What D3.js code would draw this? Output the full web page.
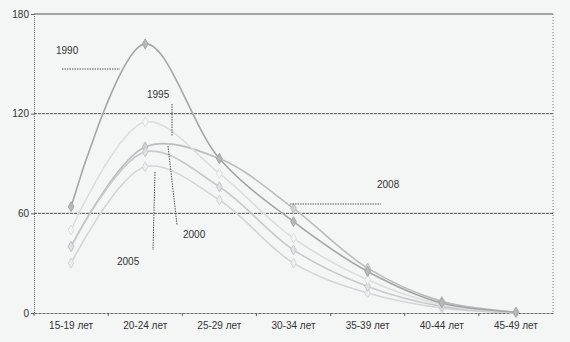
<!DOCTYPE html>
<html>
<head>
<meta charset="utf-8">
<script src="https://cdn.jsdelivr.net/npm/d3@7"></script>
<style>
    body { margin: 0; background: #f4f5f5; }
    svg { display: block; font-family: "Liberation Sans", Arial, sans-serif; }
</style>
</head>
<body>
<div id="chart"></div>
<script>
// age groups and births per 1000 women
const ageGroups = ["15-19 лет", "20-24 лет", "25-29 лет", "30-34 лет", "35-39 лет", "40-44 лет", "45-49 лет"];
const years = ["1990", "1995", "2000", "2005", "2008"];
const values1990 = [64, 162, 93, 55, 25, 6, 0.5];
const values1995 = [50, 115, 84, 45, 20, 5, 0.3];
const values2000 = [40, 97, 76, 38, 16, 4, 0.2];
const values2005 = [30, 88, 68, 30, 12, 3, 0.2];
const values2008 = [40, 100, 93, 63, 27, 7, 0.5];
const yTicks = [0, 60, 120, 180];

const seriesValues = [values1990, values1995, values2000, values2005, values2008];
const colors = ["#a4a6a6", "#dcdede", "#c6caca", "#d2d6d6", "#b8bdbd"];

let width = 570, height = 342;
let margin = {top: 14, right: 17, bottom: 29, left: 34};

let svg = d3.select("#chart").append("svg")
    .attr("width", width)
    .attr("height", height);

let x = d3.scaleBand()
    .domain(ageGroups)
    .range([margin.left, width - margin.right]);

let y = d3.scaleLinear()
    .domain([0, 180])
    .range([height - margin.bottom, margin.top]);

// grid lines
svg.append("g")
    .selectAll("line")
    .data(yTicks.filter(d => d > 0))
    .enter().append("line")
    .attr("x1", margin.left)
    .attr("x2", width - margin.right)
    .attr("y1", d => y(d))
    .attr("y2", d => y(d))
    .attr("stroke", "#555")
    .attr("stroke-width", 1)
    .attr("stroke-dasharray", d => d === 180 ? null : "3,1");

// right border
svg.append("line")
    .attr("x1", width - margin.right)
    .attr("x2", width - margin.right)
    .attr("y1", y(180))
    .attr("y2", y(0))
    .attr("stroke", "#777")
    .attr("stroke-dasharray", "1,2");

// y axis
let yAxis = svg.append("g")
    .attr("transform", `translate(${margin.left}, 0)`)
    .call(d3.axisLeft(y).tickValues(yTicks).tickSize(3).tickPadding(2));
yAxis.select(".domain").attr("stroke", "#666").attr("stroke-dasharray", "1,1");
yAxis.selectAll("line").attr("stroke", "#666");
yAxis.selectAll("text").attr("fill", "#333").style("font-size", "10px");

// x axis
let xAxis = svg.append("g")
    .attr("transform", `translate(0, ${y(0)})`)
    .call(d3.axisBottom(x).tickSize(0).tickPadding(9));
xAxis.select(".domain").attr("stroke", "#666").attr("stroke-dasharray", "3,1");
xAxis.selectAll("text").attr("fill", "#333").style("font-size", "10px");

svg.append("g")
    .selectAll("line")
    .data(ageGroups)
    .enter().append("line")
    .attr("x1", d => x(d))
    .attr("x2", d => x(d))
    .attr("y1", y(0))
    .attr("y2", y(0) + 3)
    .attr("stroke", "#666");

// lines
let line = d3.line()
    .x((d, i) => x(ageGroups[i]) + x.bandwidth() / 2)
    .y(d => y(d))
    .curve(d3.curveCatmullRom.alpha(0.5));

let draw = [4, 3, 2, 1, 0];
draw.forEach(k => {
    let g = svg.append("g").attr("class", "series-" + years[k]);

    g.append("path")
        .datum(seriesValues[k])
        .attr("fill", "none")
        .attr("stroke", colors[k])
        .attr("stroke-width", 1.6)
        .attr("d", line);

    g.selectAll("path.marker")
        .data(seriesValues[k])
        .enter().append("path")
        .attr("class", "marker")
        .attr("d", d3.symbol().type(d3.symbolDiamond).size(28))
        .attr("transform", (d, i) => `translate(${x(ageGroups[i]) + x.bandwidth() / 2}, ${y(d)})`)
        .attr("fill", d3.color(colors[k]).brighter(0.3))
        .attr("stroke", colors[k])
        .attr("stroke-width", 1);
});

// annotations with leader lines
let labels = [
    {text: "1990", tx: 56, ty: 54, line: [[62, 69], [120, 69]]},
    {text: "1995", tx: 147, ty: 98, line: [[172, 104], [172, 136]]},
    {text: "2000", tx: 183, ty: 238, line: [[168, 146], [177, 225]]},
    {text: "2005", tx: 117, ty: 265, line: [[155, 172], [153, 250]]},
    {text: "2008", tx: 377, ty: 188, line: [[290, 204], [381, 204]]}
];

labels.forEach(l => {
    svg.append("line")
        .attr("x1", l.line[0][0])
        .attr("y1", l.line[0][1])
        .attr("x2", l.line[1][0])
        .attr("y2", l.line[1][1])
        .attr("stroke", "#555")
        .attr("stroke-dasharray", "1.5,1");
    svg.append("text")
        .attr("x", l.tx)
        .attr("y", l.ty)
        .attr("fill", "#333")
        .style("font-size", "10px")
        .text(l.text);
});
</script>
</body>
</html>
